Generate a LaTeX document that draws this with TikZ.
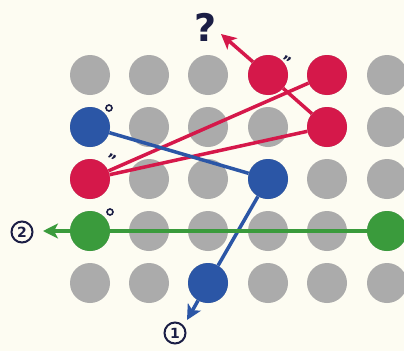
\documentclass[tikz,border=0pt]{standalone}
\usepackage{fontspec}
\setmainfont{DejaVu Sans}
\usetikzlibrary{arrows.meta}

\definecolor{bgcream}{HTML}{FDFCF2}
\definecolor{dotgray}{HTML}{ABABAB}
\definecolor{dotred}{HTML}{D5184A}
\definecolor{dotblue}{HTML}{2B56A6}
\definecolor{dotgreen}{HTML}{3A9B3C}
\definecolor{inknavy}{HTML}{1B1E45}

\begin{document}
\begin{tikzpicture}[x=1pt,y=-1pt,
    dot/.style={circle, minimum size=40pt, inner sep=0pt},
    link/.style={line width=3.5pt},
    tip/.style={-{Stealth[length=15pt,width=15pt,inset=4pt]}},
    ring/.style={circle, draw=inknavy, line width=1.6pt, minimum size=6pt, inner sep=0pt},
    prime/.style={text=inknavy, font=\bfseries\fontsize{15}{15}\selectfont, inner sep=0pt},
    numbox/.style={circle, draw=inknavy, line width=2pt, minimum size=21pt, inner sep=0pt,
      text=inknavy, font=\bfseries\fontsize{14}{14}\selectfont}]
      \fill[bgcream] (0,0) rectangle (404,351);
      \useasboundingbox (0,0) rectangle (404,351);

      % grid of grey dots
      \foreach \c/\x in {1/90,2/149,3/208,4/268,5/327,6/387}
        \foreach \r/\y in {1/75,2/127,3/179,4/231,5/283}
          \node[dot, fill=dotgray] (g\c\r) at (\x,\y) {};

      % coloured dots
      \node[dot, fill=dotred] (r1) at (g41) {};
      \node[dot, fill=dotred] (r2) at (g51) {};
      \node[dot, fill=dotred] (r3) at (g52) {};
      \node[dot, fill=dotred] (r4) at (g13) {};
      \node[dot, fill=dotblue] (b1) at (g12) {};
      \node[dot, fill=dotblue] (b2) at (g43) {};
      \node[dot, fill=dotblue] (b3) at (g35) {};
      \node[dot, fill=dotgreen] (n1) at (g14) {};
      \node[dot, fill=dotgreen] (n2) at (g64) {};

      % end labels
      \node[text=inknavy, font=\bfseries\fontsize{38}{38}\selectfont, inner sep=0pt] (ask) at (206,27) {?};
      \coordinate (asktip) at (221,34);
      \node[numbox] (one) at (175,333) {1};
      \coordinate (onetip) at (187,320);
      \node[numbox] (two) at (22,232) {2};
      \coordinate (twotip) at (43,231);

      % connections
      \draw[link, dotred] (r4) -- (r2);
      \draw[link, dotred] (r4) -- (r3);
      \draw[link, dotred] (r3) -- (r1);
      \draw[link, dotred, tip] (r1) -- (asktip);
      \draw[link, dotblue] (b1) -- (b2);
      \draw[link, dotblue] (b2) -- (b3);
      \draw[link, dotblue, tip] (b3) -- (onetip);
      \draw[link, dotgreen] (n2) -- (n1);
      \draw[link, dotgreen, tip] (n1) -- (twotip);

      % small marks
      \node[ring] (m1) at (109,108) {};
      \node[ring] (m2) at (110,212) {};
      \node[prime, rotate=-25] (m3) at (111,160) {\char"0022};
      \node[prime, rotate=-25] (m4) at (286,62) {\char"0022};
\end{tikzpicture}
\end{document}
